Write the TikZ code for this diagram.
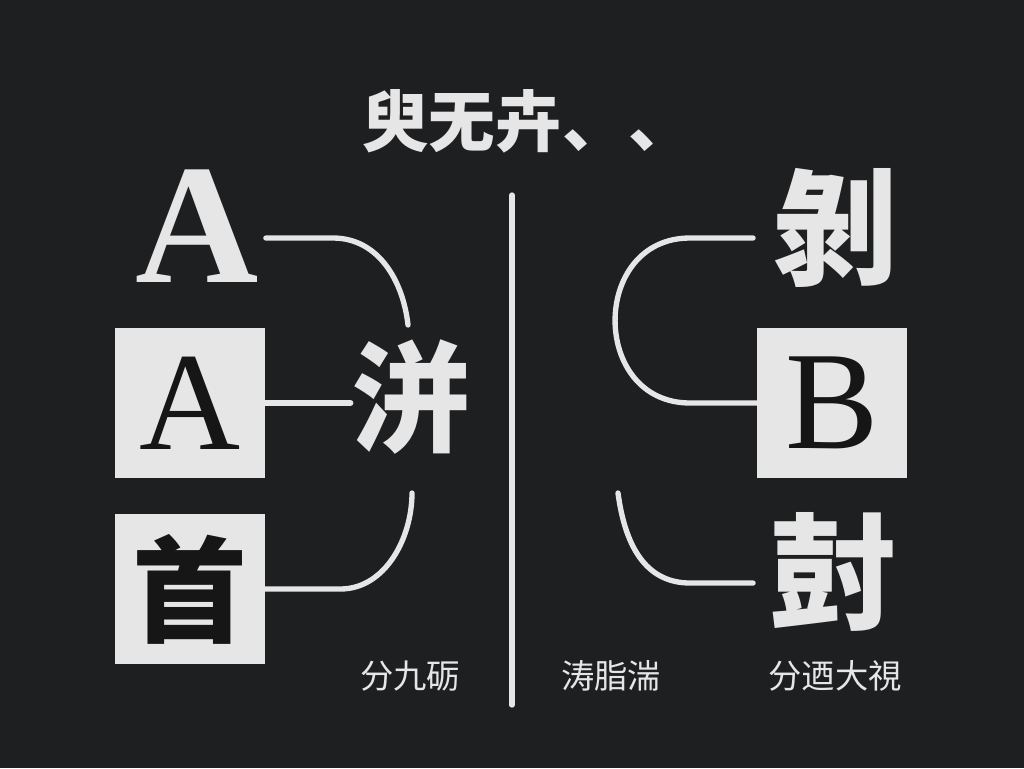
\documentclass[tikz,border=0pt]{standalone}
\usepackage{fontspec}
\setmainfont{Liberation Serif}
\newfontfamily\cjk{Noto Sans CJK SC}
\usepackage{tikz}

\definecolor{board}{RGB}{30,31,33}
\definecolor{chalk}{RGB}{230,230,230}
\definecolor{ink}{RGB}{22,22,22}

\tikzset{
  chalkline/.style={draw=chalk, line width=4pt, line cap=round},
  card/.style={fill=chalk, text=ink, minimum width=112.5pt, minimum height=112.5pt, inner sep=0pt},
  hanzi/.style={text=chalk, inner sep=0pt, font=\cjk\bfseries},
  caption/.style={text=chalk, inner sep=0pt, font=\cjk\fontsize{25}{25}\selectfont}
}

\begin{document}
\begin{tikzpicture}[x=0.75pt,y=0.75pt,yscale=-1,xscale=1]
        %Board
        \fill [board] (0,0) rectangle (1024,768) ;
        \useasboundingbox (0,0) rectangle (1024,768) ;

        % Text Node
        \node [hanzi, anchor=west] (title) at (362,121) {\fontsize{50}{50}\selectfont 臾无卉、、};
        % Text Node
        \node [text=chalk, inner sep=0pt, font=\bfseries\fontsize{128}{128}\selectfont] (Atop) at (197,226) {A};
        % Text Node
        \node [card, font=\fontsize{105}{105}\selectfont] (Abox) at (190,403) {A};
        % Text Node
        \node [card, font=\cjk\bfseries\fontsize{86}{86}\selectfont] (Cbox) at (190,589) {首};
        % Text Node
        \node [hanzi] (mid) at (411,397) {\fontsize{90}{90}\selectfont 洴};
        % Text Node
        \node [hanzi] (Rtop) at (835,228) {\fontsize{94}{94}\selectfont 剝};
        % Text Node
        \node [card, font=\fontsize{105}{105}\selectfont] (Bbox) at (832,403) {B};
        % Text Node
        \node [hanzi] (Rbot) at (833,572) {\fontsize{94}{94}\selectfont 尌};

        % Text Node
        \node [caption] (capL) at (410,676) {分九砺};
        % Text Node
        \node [caption] (capM) at (611,676) {涛脂湍};
        % Text Node
        \node [caption] (capR) at (835,676) {分迺大視};

        \coordinate (midtop) at (408,325) ;
        \coordinate (midbot) at (412,493) ;
        \coordinate (rbotend) at (618,493) ;

        %Straight Lines
        \draw [chalkline] (512,195) -- (512,705) ;
        %Curve Lines
        \draw [chalkline] (Atop.east) ++(7,12) -- ++(67,0) .. controls +(45,0) and +(-5,-45) .. (midtop) ;
        %Straight Lines
        \draw [chalkline] (Abox.east) -- (Abox.east -| mid.west) ;
        %Curve Lines
        \draw [chalkline] (Cbox.east) -- ++(75,0) .. controls +(45,0) and +(0,45) .. (midbot) ;
        %Curve Lines
        \draw [chalkline] (Rtop.west) ++(-19,10) -- ++(-63,0) .. controls +(-100,0) and +(-100,0) .. ++(0,165) -- (Bbox.west) ;
        %Curve Lines
        \draw [chalkline] (Rbot.west) ++(-17,11) -- ++(-63,0) .. controls +(-40,0) and +(8,60) .. (rbotend) ;

\end{tikzpicture}
\end{document}
